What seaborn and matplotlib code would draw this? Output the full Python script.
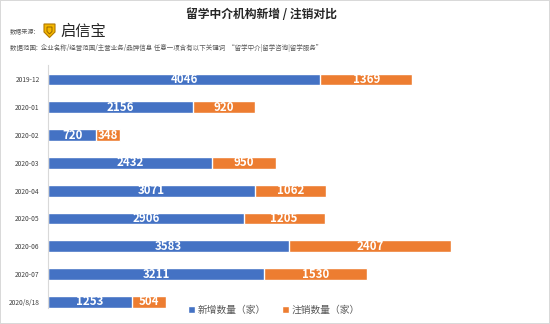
import matplotlib
matplotlib.use("Agg")
import matplotlib.pyplot as plt
from matplotlib.patches import Polygon
import seaborn as sns
import pandas as pd

categories = ["2019-12", "2020-01", "2020-02", "2020-03", "2020-04",
              "2020-05", "2020-06", "2020-07", "2020/8/18"]
new_counts = [4046, 2156, 720, 2432, 3071, 2906, 3583, 3211, 1253]
cancel_counts = [1369, 920, 348, 950, 1062, 1205, 2407, 1530, 504]
series_names = ["新增数量（家）", "注销数量（家）"]

BLUE = "#4472C4"
ORANGE = "#ED7D31"

sns.set_theme(style="white")
plt.rcParams["font.family"] = ["Noto Sans CJK SC", "DejaVu Sans"]

W, H = 550, 324
fig = plt.figure(figsize=(W / 100, H / 100), dpi=100)
fig.patch.set_facecolor("white")
fig.patch.set_edgecolor("#D9D9D9")
fig.patch.set_linewidth(1.2)

def fx(px):
    return px / W

def fy(py):
    return 1 - py / H

ax = fig.add_axes([fx(48), fy(308), fx(540) - fx(48), fy(65) - fy(308)])

df = pd.DataFrame({
    "cat": categories,
    "new": new_counts,
    "cancel": cancel_counts,
})
df["total"] = df["new"] + df["cancel"]

sns.barplot(data=df, x="total", y="cat", orient="h", color=ORANGE,
            width=0.42, saturation=1, ax=ax, label=series_names[1])
sns.barplot(data=df, x="new", y="cat", orient="h", color=BLUE,
            width=0.42, saturation=1, ax=ax, label=series_names[0])

for i, (n, c) in enumerate(zip(new_counts, cancel_counts)):
    ax.text(n / 2, i, f"{n}", ha="center", va="center", color="white",
            fontsize=8.3, fontweight="bold")
    ax.text(n + c / 2, i, f"{c}", ha="center", va="center", color="white",
            fontsize=8.3, fontweight="bold")

ax.set_xlim(0, 7310)
ax.set_ylim(8.22, -0.52)
ax.set_xlabel("")
ax.set_ylabel("")
ax.set_xticks([])
ax.tick_params(axis="y", length=0, pad=6, labelsize=4.8, labelcolor="#404040")
for s in ["top", "right", "bottom"]:
    ax.spines[s].set_visible(False)
ax.spines["left"].set_color("#D9D9D9")
ax.spines["left"].set_linewidth(0.8)
if ax.get_legend() is not None:
    ax.get_legend().remove()

handles, labels = ax.get_legend_handles_labels()
order = [labels.index(series_names[0]), labels.index(series_names[1])]
fig.legend([handles[k] for k in order], [labels[k] for k in order],
           loc="center", bbox_to_anchor=(fx(274), fy(310)), ncol=2,
           frameon=False, fontsize=7, labelcolor="#595959",
           handlelength=0.7, handleheight=0.7, handletextpad=0.3,
           columnspacing=1.6)

fig.text(fx(261), fy(15), "留学中介机构新增 / 注销对比", ha="center",
         va="center", fontsize=8.5, fontweight="bold", color="#262626")
fig.text(fx(10), fy(32), "数据来源:", ha="left", va="center",
         fontsize=4.4, color="#595959")
fig.text(fx(60), fy(31), "启信宝", ha="left", va="center",
         fontsize=11, color="#262626")
fig.text(fx(10), fy(48),
         "数据范围:  企业名称/经营范围/主营业务/品牌信息 任意一项含有以下关键词  “留学中介|留学咨询|留学服务”",
         ha="left", va="center", fontsize=4.65, color="#595959")

shield = Polygon([(fx(44), fy(24)), (fx(55), fy(24)), (fx(55), fy(32)),
                  (fx(49.5), fy(37.5)), (fx(44), fy(32))], closed=True,
                 transform=fig.transFigure, facecolor="#F5B800",
                 edgecolor="#B07800", linewidth=0.8)
fig.patches.append(shield)
inner = Polygon([(fx(47), fy(27)), (fx(52), fy(27)), (fx(52), fy(31.5)),
                 (fx(49.5), fy(34)), (fx(47), fy(31.5))], closed=True,
                transform=fig.transFigure, facecolor="none",
                edgecolor="#8A5A00", linewidth=0.6)
fig.patches.append(inner)

fig.savefig("out.png", dpi=100, facecolor=fig.get_facecolor(),
            edgecolor=fig.get_edgecolor())
